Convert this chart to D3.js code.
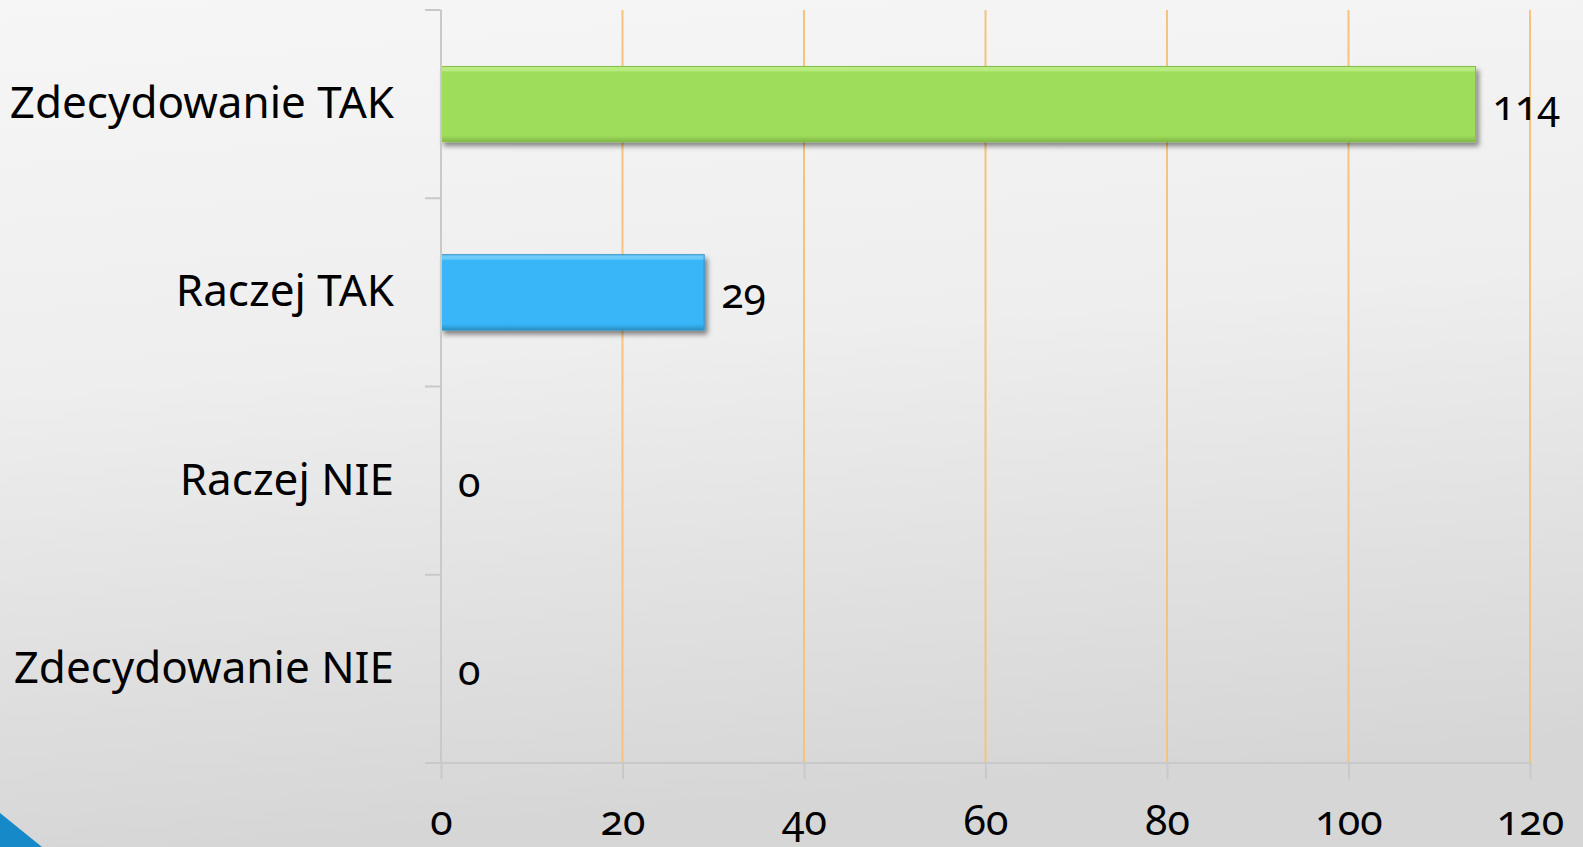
<!DOCTYPE html>
<html><head><meta charset="utf-8">
<script src="https://cdn.jsdelivr.net/npm/d3@7"></script>
<style>
html,body{margin:0;padding:0;overflow:hidden;}
svg{display:block;}
text{font-family:"Noto Sans","Open Sans",sans-serif;fill:#000;}
.num{font-variant-numeric:oldstyle-nums;font-feature-settings:"onum" 1;}
</style></head>
<body>
<script>
const categories = ["Zdecydowanie TAK", "Raczej TAK", "Raczej NIE", "Zdecydowanie NIE"];
const values = [114, 29, 0, 0];
const tickValues = [0, 20, 40, 60, 80, 100, 120];

const W = 1583, H = 847;
const svg = d3.select("body").append("svg").attr("width", W).attr("height", H);
const defs = svg.append("defs");

const bg = defs.append("linearGradient").attr("id","bg").attr("x1",0).attr("y1",0).attr("x2",0.15).attr("y2",1);
bg.append("stop").attr("offset","0%").attr("stop-color","#f6f6f6");
bg.append("stop").attr("offset","45%").attr("stop-color","#eeeeee");
bg.append("stop").attr("offset","100%").attr("stop-color","#d6d6d6");
svg.append("rect").attr("width",W).attr("height",H).attr("fill","url(#bg)");

const shadow = defs.append("filter").attr("id","sh").attr("x","-5%").attr("y","-20%").attr("width","115%").attr("height","160%");
shadow.append("feDropShadow").attr("dx",3).attr("dy",4).attr("stdDeviation",2.5).attr("flood-color","#000").attr("flood-opacity",0.45);

function barGrad(id, light, mid, dark){
  const g = defs.append("linearGradient").attr("id",id).attr("x1",0).attr("y1",0).attr("x2",0).attr("y2",1);
  g.append("stop").attr("offset","0%").attr("stop-color",light);
  g.append("stop").attr("offset","5%").attr("stop-color",light);
  g.append("stop").attr("offset","8%").attr("stop-color",mid);
  g.append("stop").attr("offset","92%").attr("stop-color",mid);
  g.append("stop").attr("offset","100%").attr("stop-color",dark);
}
barGrad("g0","#b8ec80","#9edc5b","#7fb845");
barGrad("g1","#6ccbf9","#37b6f7","#2a8fc4");

const x = d3.scaleLinear().domain([0,120]).range([441,1530]);
const y = d3.scaleBand().domain(categories).range([10,763]).paddingInner(0.6).paddingOuter(0.3);

// gridlines
svg.append("g").selectAll("line").data(tickValues.filter(d=>d>0)).join("line")
  .attr("x1",d=>x(d)).attr("x2",d=>x(d)).attr("y1",10).attr("y2",763)
  .attr("stroke","#f6c37c").attr("stroke-width",2);

// bars
svg.append("g").selectAll("rect").data(values).join("rect")
  .attr("x",x(0)).attr("y",(d,i)=>y(categories[i]))
  .attr("width",d=>x(d)-x(0)).attr("height",y.bandwidth())
  .attr("fill",(d,i)=>"url(#g"+(i%2)+")")
  .attr("stroke",(d,i)=>i%2? "#2d93c8":"#84bf4c").attr("stroke-width",1)
  .attr("filter","url(#sh)")
  .style("display",d=>d>0?null:"none");

// left axis
const step = y.step();
const bounds = categories.map(c=>y(c)-step*y.paddingInner()/2).concat([763]);
const ax = svg.append("g");
ax.append("line").attr("x1",441).attr("x2",441).attr("y1",10).attr("y2",763).attr("stroke","#c9c9c9").attr("stroke-width",2);
ax.selectAll("line.t").data(bounds).join("line").attr("class","t")
  .attr("x1",425).attr("x2",441).attr("y1",d=>d).attr("y2",d=>d)
  .attr("stroke","#c9c9c9").attr("stroke-width",2);
ax.selectAll("text").data(categories).join("text")
  .attr("x",394).attr("y",c=>y(c)+y.bandwidth()/2+14)
  .attr("text-anchor","end").attr("font-size",44).text(c=>c);

// bottom axis
const bx = svg.append("g").attr("transform","translate(0,763)")
  .call(d3.axisBottom(x).tickValues(tickValues).tickSize(16).tickSizeOuter(0).tickPadding(0));
bx.select(".domain").attr("stroke","#c9c9c9").attr("stroke-width",2).attr("d","M425,0H1530");
bx.selectAll(".tick line").attr("stroke","#c9c9c9").attr("stroke-width",2);
bx.selectAll(".tick text").attr("y",72).attr("dy",0).attr("class","num")
  .attr("font-size",41).attr("font-family","'Noto Sans','Open Sans',sans-serif").attr("fill","#000");

// value labels
svg.append("g").selectAll("text").data(values).join("text").attr("class","num")
  .attr("x",d=>x(d)+17).attr("y",(d,i)=>y(categories[i])+y.bandwidth()/2+16)
  .attr("font-size",41).text(d=>d);

// corner triangle
svg.append("path").attr("d","M0,813L42,847L0,847Z").attr("fill","#1689c9");
</script>
</body></html>
